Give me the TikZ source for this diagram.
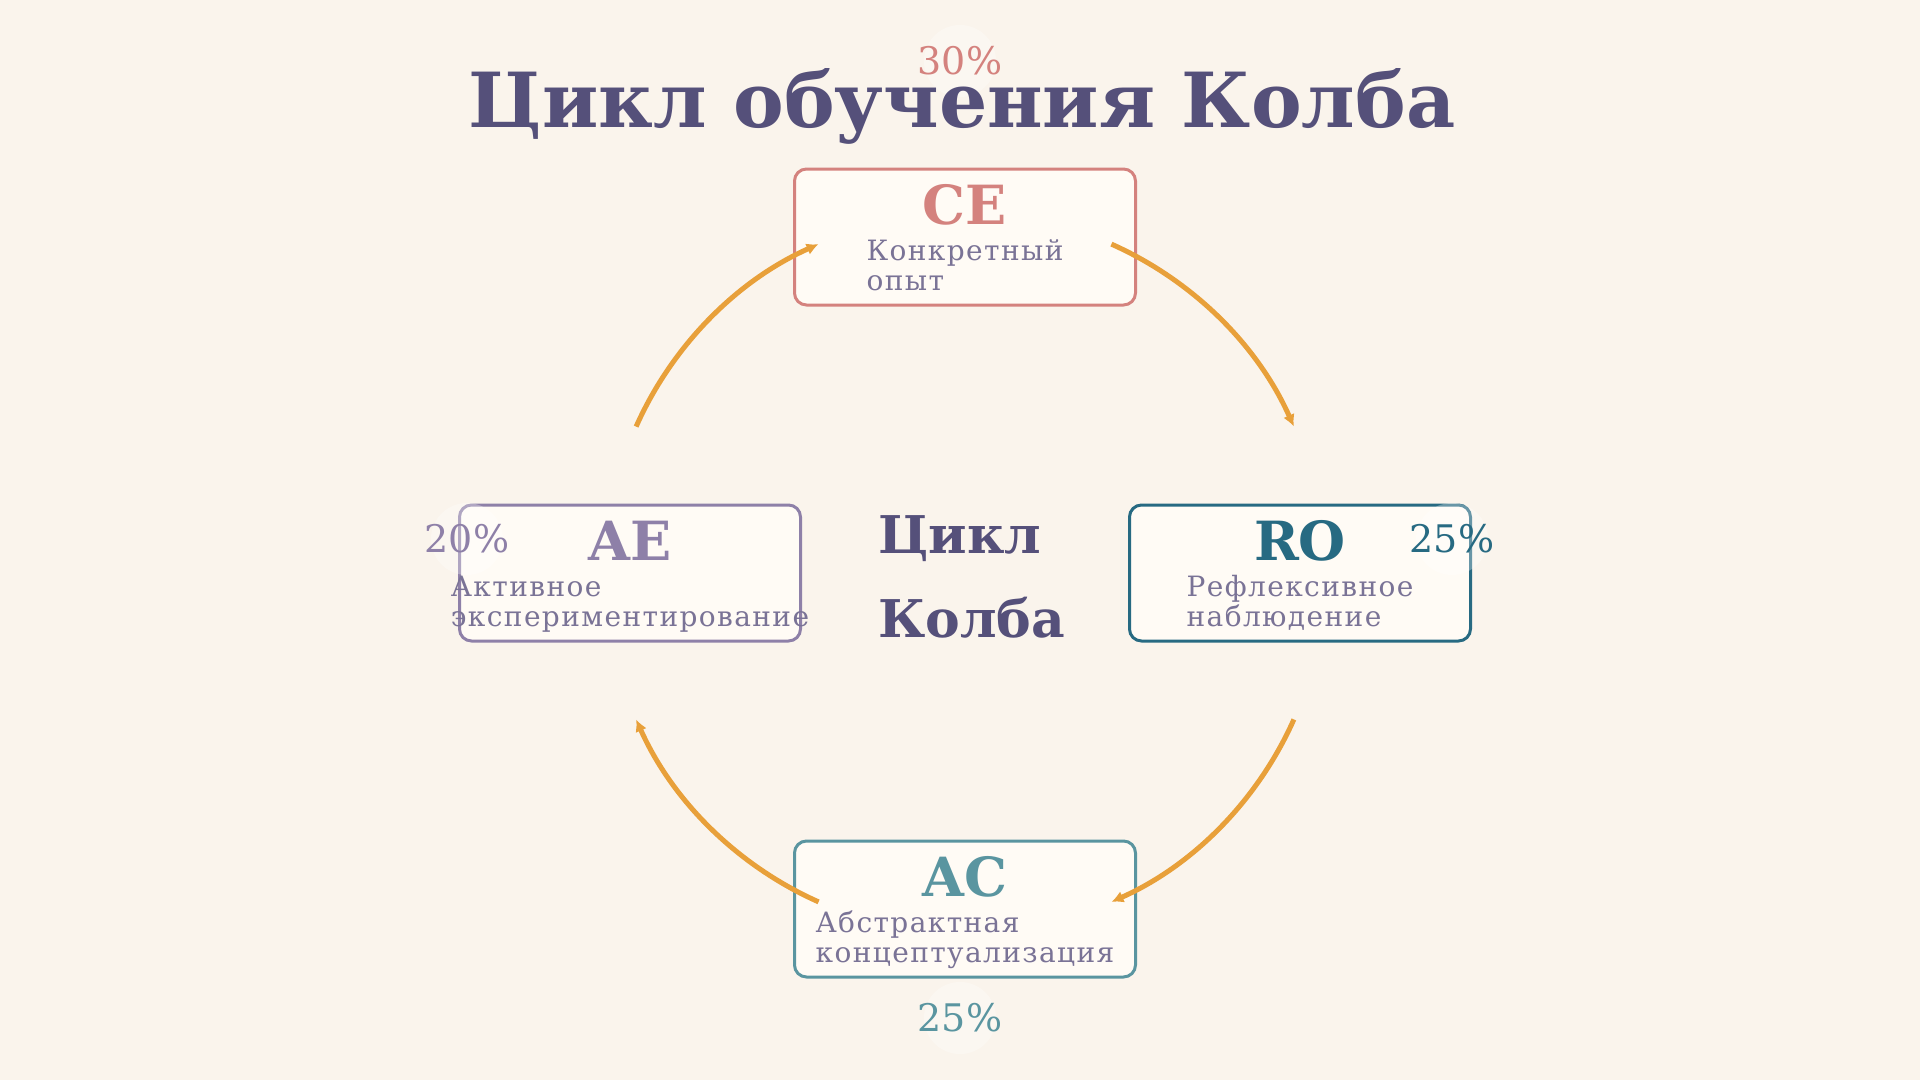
\documentclass[tikz,border=0pt]{standalone}
\usepackage{fontspec}
\setmainfont{DejaVu Serif}
\newfontfamily\descfont[LetterSpace=5]{DejaVu Serif}
\usetikzlibrary{positioning,arrows.meta,calc}

\definecolor{bgcol}{HTML}{FAF4EC}
\definecolor{boxfill}{HTML}{FFFBF5}
\definecolor{ink}{HTML}{55507A}
\definecolor{desccol}{HTML}{7A7396}
\definecolor{flowcol}{HTML}{E8A03A}
\definecolor{cecol}{HTML}{D4827E}
\definecolor{rocol}{HTML}{276A82}
\definecolor{accol}{HTML}{5A95A0}
\definecolor{aecol}{HTML}{8E80A8}

\begin{document}
\begin{tikzpicture}[x=1pt,y=-1pt,
		stage/.style={draw=#1,fill=boxfill,line width=3pt,rounded corners=12pt,minimum width=341pt,minimum height=136pt,inner sep=0pt},
		short/.style={text=#1,font=\bfseries\fontsize{54}{54}\selectfont,inner sep=0pt},
		desc/.style={text=desccol,font=\descfont\fontsize{28}{30}\selectfont,align=left,inner sep=0pt},
		share/.style={text=#1,font=\fontsize{38}{38}\selectfont,inner sep=0pt},
		badge/.style={circle,fill=white,fill opacity=0.3,minimum size=72pt,inner sep=0pt},
		flow/.style={draw=flowcol,line width=5pt,-{Latex[length=12pt,width=12pt]}}]
		
		\fill[bgcol] (0,0) rectangle (1920,1080);
		\useasboundingbox (0,0) rectangle (1920,1080);
		
		%stufen
		\foreach \name/\px/\py/\farbe/\kurz/\info/\bx/\by/\wert in {
			ce/965/237/cecol/CE/{Конкретный\\опыт}/960/61/30,
			ro/1300/573/rocol/RO/{Рефлексивное\\наблюдение}/1452/539/25,
			ac/965/909/accol/AC/{Абстрактная\\концептуализация}/960/1018/25,
			ae/630/573/aecol/AE/{Активное\\экспериментирование}/467/539/20}
		{
			\node[stage=\farbe] (\name) at (\px,\py) {};
			\node[badge] (\name-badge) at (\bx,\by) {};
			\node[share=\farbe] (\name-wert) at (\name-badge) {\wert\%};
			\node[short=\farbe,below=17pt of \name.north] (\name-kurz) {\kurz};
			\node[desc,below=70pt of \name.north] (\name-text) {\rule{0pt}{0.8em}\info};
		}
		
		%titel
		\node[font=\bfseries\fontsize{76}{90}\selectfont,text=ink,anchor=base,inner sep=0pt] (titel) at (962,127) {Цикл обучения Колба};
		
		%mitte
		\coordinate (mitte) at (965,573);
		\node[font=\bfseries\fontsize{52}{84}\selectfont,text=ink,align=left,anchor=north west,inner sep=0pt] (zyklus) at (878,515) {Цикл\\Колба};
		
		%pfeile
		\foreach \beg/\fin in {66/24, -24/-66, 246/204, 156/114}
		\draw[flow] ($(mitte)+(\beg:360pt)$) arc[start angle=\beg,end angle=\fin,radius=360pt];
		
\end{tikzpicture}
\end{document}
